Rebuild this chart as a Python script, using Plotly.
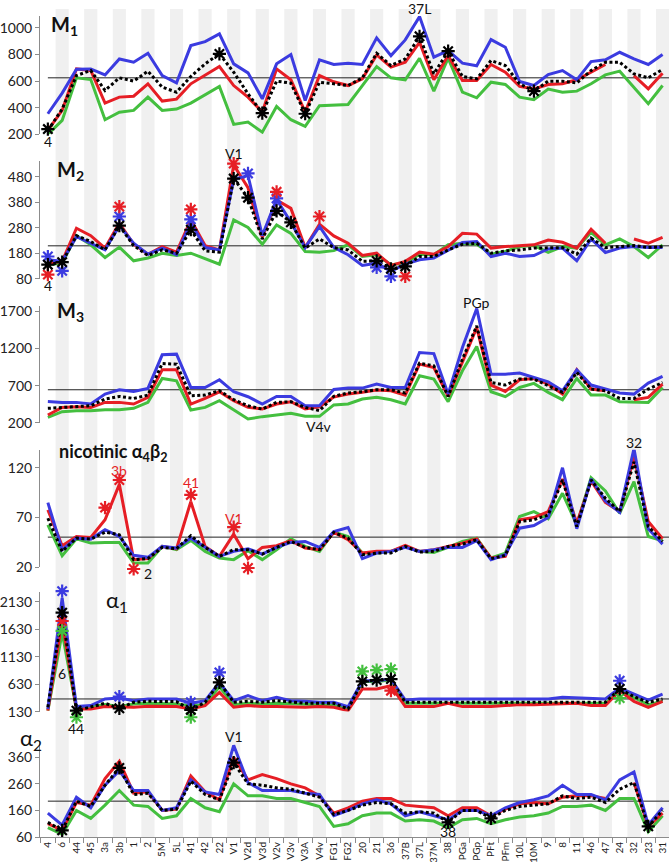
import plotly.graph_objects as go

categories = ["4","6","44","45","3a","3b","1","2","5M","5L","41","42","22","V1","V2d","V3d","V2v","V3v","V3A","V4v",
              "FG1","FG2","20","21","36","37B","37L","37M","38","PGa","PGp","PFt","PFm","10L","10M","9","8","11","46","47",
              "24","32","23","31"]

# ---------------- M1 ----------------
m1_blue  = [355,510,690,692,647,767,742,810,642,587,867,897,955,730,662,467,730,800,455,760,
            725,735,725,925,792,910,1085,780,830,735,715,912,855,597,567,650,680,610,747,760,817,767,725,800]
m1_red   = [230,380,692,680,435,480,487,580,450,465,580,647,710,567,480,367,692,610,367,642,
            595,567,617,797,705,742,892,610,792,605,605,725,667,560,542,575,580,610,667,725,None,642,542,660]
m1_green = [200,305,625,612,310,367,380,480,380,390,435,500,560,275,292,217,410,310,260,415,
            418,425,567,710,625,610,772,525,772,517,475,592,575,480,460,540,517,525,580,647,675,555,430,567]
m1_black = [230,390,642,680,530,625,600,675,555,517,635,730,805,667,505,360,600,585,355,592,
            580,567,625,810,717,767,937,655,825,635,617,755,717,580,525,600,600,587,680,742,742,655,625,687]
m1_mean = 625

# ---------------- M2 ----------------
m2_blue  = [154,148,245,219,193,288,219,176,200,174,301,202,193,470,485,249,392,301,202,285,
            203,174,132,141,109,137,154,161,193,222,226,167,180,167,171,197,200,150,236,183,200,206,202,202]
m2_red   = [141,148,278,249,200,298,215,176,206,184,311,210,193,526,437,242,389,356,202,294,
            248,219,171,180,132,148,184,176,206,258,255,200,206,209,213,232,223,200,274,219,None,236,219,242]
m2_green = [135,141,249,213,163,204,150,161,180,171,180,158,137,311,281,215,291,258,187,184,
            190,213,167,174,135,141,176,174,213,219,215,176,187,206,210,183,206,200,262,213,236,206,163,213]
m2_black = [135,145,249,226,193,288,210,171,193,180,272,189,184,473,398,236,346,301,200,236,
            202,193,148,150,119,128,167,167,193,215,219,180,189,193,200,200,202,176,239,202,206,210,202,206]
m2_mean = 209

# ---------------- M3 ----------------
m3_blue  = [489,476,476,454,587,645,623,663,1113,1122,676,676,779,618,552,454,556,556,431,431,
            648,667,667,721,676,676,1144,1130,587,1211,1732,854,854,868,810,752,632,912,708,654,601,587,734,823]
m3_red   = [307,409,418,409,476,476,454,543,912,912,454,529,618,498,409,387,454,485,387,418,
            547,587,610,641,632,574,988,943,556,1010,1478,708,623,779,797,721,587,912,654,632,None,512,543,721]
m3_green = [276,351,365,365,378,378,396,476,797,765,374,409,498,378,253,285,311,329,289,289,
            442,454,521,543,512,454,832,788,485,899,1224,618,552,676,730,610,512,797,574,574,485,476,476,676]
m3_black = [396,409,418,431,521,556,529,574,997,988,565,574,632,512,431,387,476,485,409,365,
            558,601,618,645,645,601,1001,966,556,1055,1500,743,708,788,788,699,610,877,654,632,529,529,654,743]
m3_mean = 645

# ---------------- nicotinic a4b2 ----------------
nic_blue  = [85,37.7,49.3,48.3,57.7,51,32,30,41,39.3,49.3,40,31,36,38.7,33.3,40,45,46,40,
             56,60,28.7,34.3,36,40,36,37.7,40,40,46.7,27.7,32.7,59.3,62,70,120,58.7,108.7,86.7,75.3,139.3,58.7,43.3]
nic_red   = [77.7,41.7,51,50,67.7,103.3,27.7,28.7,41,38.7,86,41,31,53.3,28.7,40,41.7,46.7,39.3,37.7,
             55,47.7,34.3,36,36,42,36,37.7,41,44.3,48.7,29.3,31,67.7,70,76,108.7,64.3,106.7,85.3,76,131,66,48.7]
nic_green = [62.7,31.7,48.7,44.3,45,45,24.3,24.3,41,37.7,47,36,29.3,27.7,36.7,27.7,37.7,48.7,41,36,
             55.5,51,34.3,34.3,36,41,36,35,40,46,49.3,29.3,34.3,71,76,68.7,94.3,62.7,110,96.7,74.3,106,51,46.7]
nic_black = [69.3,36,49.3,48.3,55.3,52.7,27.7,28.7,40,38.7,51.7,40,31,37.7,37.7,33.3,40,46,40,37.7,
             55,49.3,32.7,34.3,34.3,41,35.3,36,41,43.3,47.7,28.7,32,66,67.7,72.7,107.7,61,107.7,89.3,76,126,61,46]
nic_mean = 50.3

# ---------------- alpha1 ----------------
a1_blue  = [178,2200,221,239,360,378,329,360,360,360,281,329,662,329,420,329,390,329,317,299,
            299,221,692,692,722,341,360,360,360,360,360,360,360,360,360,360,390,378,360,360,559,450,341,450]
a1_red   = [148,1779,178,178,221,209,209,227,227,221,178,239,480,209,239,221,221,209,209,221,
            210,148,541,541,601,221,221,221,281,221,221,221,239,257,257,269,281,281,239,239,511,317,209,317]
a1_green = [148,1568,178,221,257,221,269,281,269,269,239,257,583,257,281,269,281,269,257,257,
            255,178,680,680,704,281,281,281,281,281,281,281,281,281,281,281,281,281,281,281,511,378,257,317]
a1_black = [209,1930,148,209,281,190,299,317,317,311,160,299,662,299,317,299,329,299,281,281,
            281,178,680,704,722,299,299,299,299,299,299,299,299,299,299,299,299,299,299,299,541,402,299,360]
a1_mean = 360

# ---------------- alpha2 ----------------
a2_blue  = [150,105,210,170,255,310,235,235,160,170,275,230,220,405,265,235,235,235,225,220,
            140,160,185,200,185,140,155,140,125,160,160,140,170,190,200,215,255,220,220,200,275,305,105,170]
a2_red   = [110,85,190,180,280,345,225,230,160,165,290,230,200,360,275,295,280,260,245,215,
            150,170,195,205,205,180,175,170,140,170,170,140,165,185,190,185,210,215,215,205,None,265,100,150]
a2_green = [95,70,160,130,180,235,180,175,130,140,205,170,155,260,215,215,205,205,190,175,
            100,110,140,150,150,120,125,120,95,125,130,110,125,135,140,150,175,175,180,160,205,205,80,140]
a2_black = [115,85,195,175,255,320,220,225,160,165,270,220,200,340,260,255,245,240,225,210,
            145,160,180,190,185,150,155,150,115,160,160,130,160,175,180,185,215,205,210,190,240,265,100,160]
a2_mean = 195

# significance asterisks: (category, value)
m1_ast_black = [("4",240),("22",805),("V3d",360),("V3A",355),("37L",937),("38",825),("10M",525)]
m2_ast_blue  = [("4",167),("6",111),("3b",324),("41",313),("V2d",493),("V2v",395),("21",124),("36",89)]
m2_ast_red   = [("4",96),("3b",363),("41",352),("V1",532),("V2v",421),("V4v",324),("37B",89)]
m2_ast_black = [("4",135),("6",145),("3b",288),("41",272),("V1",473),("V2d",398),("V2v",346),("V3v",301),
                ("21",150),("36",119),("37B",128)]
nic_ast_red  = [("3a",80),("3b",107.7),("1",18.3),("41",92.7),("V1",60.3),("V2d",19.3)]
a1_ast_blue  = [("6",2323),("3b",402),("41",299),("22",843),("24",692)]
a1_ast_red   = [("6",1779),("36",511)]
a1_ast_green = [("6",1598),("44",27),("41",27),("20",861),("21",885),("36",903),("24",378)]
a1_ast_black = [("6",1930),("44",148),("3b",190),("41",160),("22",662),("20",680),("21",704),("36",722),("24",541)]
a2_ast_black = [("6",85),("3b",320),("V1",340),("38",115),("PFt",130),("23",100)]

BLUE = "#3b3be0"
RED = "#e61e25"
GREEN = "#44bf3f"
BLACK = "#000000"
FONT = "Lato, 'Open Sans', sans-serif"

idx = {c: i for i, c in enumerate(categories)}
X = list(range(len(categories)))

PB = 837.0   # pixel bottom of plot area
PL = 38.0    # pixel left of plot area
PW = 631.0   # plot width
def dom(top, bot):
    return [(PB - bot) / PB, (PB - top) / PB]

panels = [
    dict(data=(m1_blue, m1_red, m1_green, m1_black), mean=m1_mean, rng=[200, 1090], ticks=[200,400,600,800,1000], px=(12,131)),
    dict(data=(m2_blue, m2_red, m2_green, m2_black), mean=m2_mean, rng=[80, 541], ticks=[80,180,280,380,480], px=(158,276)),
    dict(data=(m3_blue, m3_red, m3_green, m3_black), mean=m3_mean, rng=[200, 1773], ticks=[200,700,1200,1700], px=(303,421)),
    dict(data=(nic_blue, nic_red, nic_green, nic_black), mean=nic_mean, rng=[20, 138], ticks=[20,70,120], px=(448,566)),
    dict(data=(a1_blue, a1_red, a1_green, a1_black), mean=a1_mean, rng=[130, 2304], ticks=[130,630,1130,1630,2130], px=(591,711)),
    dict(data=(a2_blue, a2_red, a2_green, a2_black), mean=a2_mean, rng=[60, 416], ticks=[60,160,260,360], px=(742,837)),
]
NP = len(panels)

def to_paper(k, v):
    p = panels[k]
    d0, d1 = dom(*p["px"])
    r0, r1 = p["rng"]
    return d0 + (v - r0) / (r1 - r0) * (d1 - d0)

fig = go.Figure()
layout = dict(
    width=669, height=862,
    margin=dict(l=38, r=0, t=0, b=25),
    paper_bgcolor="white", plot_bgcolor="rgba(0,0,0,0)",
    showlegend=False,
    font=dict(family=FONT, color="#222"),
)

for k, p in enumerate(panels):
    yname = "y" if k == 0 else f"y{k+1}"
    lname = "yaxis" if k == 0 else f"yaxis{k+1}"
    d0, d1 = dom(*p["px"])
    r0, r1 = p["rng"]
    layout[lname] = dict(
        domain=[d0, d1], range=[r0, r1], tickmode="array", tickvals=p["ticks"],
        showline=True, linecolor="#8c8c8c", linewidth=1, ticks="outside", ticklen=4,
        tickcolor="#8c8c8c", showgrid=False, zeroline=False, anchor="x",
        tickfont=dict(size=14, family=FONT, color="#222"),
    )
    # invisible companion axis with the same scale but a slightly taller domain,
    # so that significance marks just outside the panel stay visible
    e0 = min(22 / PB, d0)
    e1 = min(22 / PB, 1 - d1)
    upf = (r1 - r0) / (d1 - d0)
    layout[f"yaxis{k+1+NP}"] = dict(domain=[d0 - e0, d1 + e1], range=[r0 - e0 * upf, r1 + e1 * upf],
                                    visible=False, anchor="x", showgrid=False, zeroline=False)
    b, r, g, kk = p["data"]
    fig.add_trace(go.Scatter(x=[0, len(categories)-0.55], y=[p["mean"]]*2, mode="lines",
                             line=dict(color="#222", width=1), xaxis="x", yaxis=yname, hoverinfo="skip"))
    for vals, col in ((g, GREEN), (r, RED), (b, BLUE)):
        fig.add_trace(go.Scatter(x=X, y=vals, mode="lines", line=dict(color=col, width=3),
                                 xaxis="x", yaxis=yname, connectgaps=False))
    fig.add_trace(go.Scatter(x=X, y=kk, mode="lines", line=dict(color=BLACK, width=3, dash="3px,2.5px"),
                             xaxis="x", yaxis=yname))

def add_ast(lst, col, k):
    yname = f"y{k+1+NP}"
    fig.add_trace(go.Scatter(x=[idx[c] for c, v in lst], y=[v for c, v in lst], mode="markers",
                             marker=dict(symbol="asterisk-open", size=11, color=col,
                                         line=dict(color=col, width=2.2)),
                             xaxis="x", yaxis=yname, cliponaxis=False))

add_ast(m1_ast_black, BLACK, 0)
add_ast(m2_ast_blue, BLUE, 1)
add_ast(m2_ast_red, RED, 1)
add_ast(m2_ast_black, BLACK, 1)
add_ast(nic_ast_red, RED, 3)
add_ast(a1_ast_blue, BLUE, 4)
add_ast(a1_ast_red, RED, 4)
add_ast(a1_ast_green, GREEN, 4)
add_ast(a1_ast_black, BLACK, 4)
add_ast(a2_ast_black, BLACK, 5)

layout["xaxis"] = dict(
    range=[-0.55, 43.45], tickmode="array", tickvals=X, ticktext=categories, tickangle=-90,
    anchor="y6", showline=True, linecolor="#8c8c8c", linewidth=1, ticks="",
    tickfont=dict(size=10, family=FONT, color="#222"), showgrid=False, zeroline=False,
    minor=dict(ticks="outside", tickmode="linear", tick0=-0.5, dtick=1, ticklen=5, tickcolor="#8c8c8c"),
    automargin=False,
)

# alternating grey bands
shapes = []
for i in range(1, len(categories), 2):
    shapes.append(dict(type="rect", xref="x", yref="paper", x0=i-0.46, x1=i+0.46,
                       y0=0, y1=(PB-5)/PB, fillcolor="#f0f0f0", line=dict(width=0), layer="below"))
layout["shapes"] = shapes

def ann(text, xi, yv, k, size=14, color="#111", bold=False, xanchor="center"):
    return dict(text=(f"<b>{text}</b>" if bold else text), x=xi, y=to_paper(k, yv), xref="x", yref="paper",
                showarrow=False, xanchor=xanchor, yanchor="middle",
                font=dict(size=size, color=color, family=FONT))

annotations = [
    ann("M<sub>1</sub>", 0.05, 1016, 0, size=20, bold=True, xanchor="left"),
    ann("M<sub>2</sub>", 0.5, 506, 1, size=20, bold=True, xanchor="left"),
    ann("M<sub>3</sub>", 0.5, 1693, 2, size=20, bold=True, xanchor="left"),
    ann("nicotinic α<sub>4</sub>β<sub>2</sub>", 0.65, 135, 3, size=18, bold=True, xanchor="left"),
    ann("α<sub>1</sub>", 3.95, 2141, 4, size=22, xanchor="left"),
    ann("4", idx["4"], 148, 0),
    ann("37L", idx["37L"], 1144, 0),
    ann("V1", idx["V1"], 572, 1),
    ann("4", idx["4"], 53, 1),
    ann("PGp", idx["PGp"], 1813, 2),
    ann("V4v", idx["V4v"], 147, 2),
    ann("32", idx["32"], 145, 3),
    ann("3b", idx["3b"], 117, 3, color=RED),
    ann("41", idx["41"], 105, 3, color=RED),
    ann("V1", idx["V1"], 69, 3, color=RED),
    ann("2", idx["2"], 14, 3),
    ann("6", idx["6"], 818, 4),
    ann("44", idx["44"], -178, 4),
    ann("V1", idx["V1"], 440, 5),
    ann("38", idx["38"], 80, 5),
    dict(text="α<sub>2</sub>", x=(29 - PL) / PW, y=(PB - 739) / PB, xref="paper", yref="paper",
         showarrow=False, xanchor="center", yanchor="middle", font=dict(size=22, color="#111", family=FONT)),
]
layout["annotations"] = annotations

fig.update_layout(**layout)
fig.write_html("out.html", config={"displayModeBar": False},
               post_script="document.body.style.margin='0px';document.body.style.overflow='hidden';")
